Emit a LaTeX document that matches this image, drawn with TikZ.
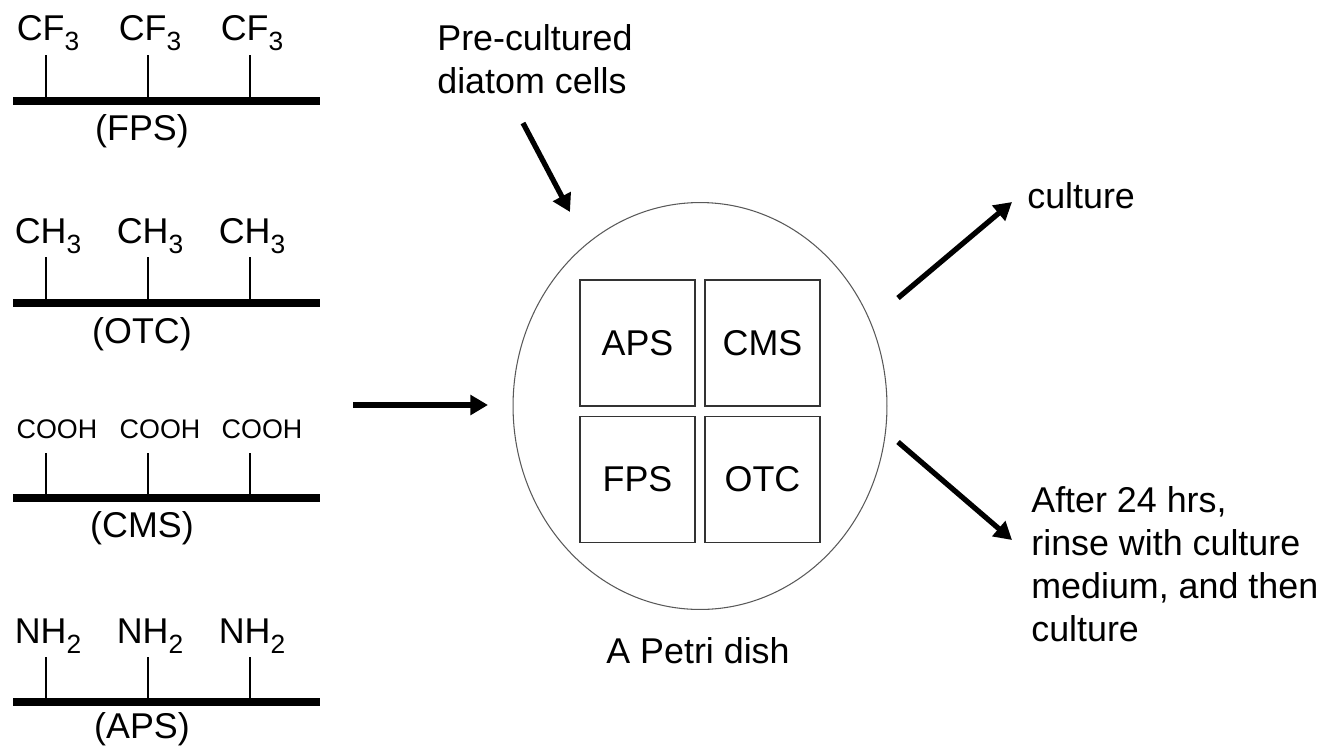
\documentclass[tikz,border=0pt]{standalone}
\usepackage{fontspec}
\setmainfont{Liberation Sans}
\usepackage{tikz}
\usetikzlibrary{arrows.meta}
\usetikzlibrary{shapes.geometric}
\newcommand{\subsc}[1]{\raisebox{-6pt}{\fontsize{15}{15}\selectfont #1}}
\definecolor{dishgray}{rgb}{0.35,0.35,0.35}
\definecolor{boxgray}{rgb}{0.2,0.2,0.2}
\tikzstyle{every node}=[font=\fontsize{20.4}{24.4}\selectfont,inner sep=0pt]
\tikzstyle{chain}=[line width=4.5pt]
\tikzstyle{stub}=[line width=0.6pt]
\tikzstyle{flow}=[->,line width=3pt]
\tikzstyle{chip}=[draw=boxgray,line width=0.9pt,minimum width=2.3cm,minimum height=2.52cm]

\begin{document}
\begin{tikzpicture}[>={Triangle[length=10pt,width=11pt]},x=0.02cm,y=-0.02cm]
            \clip(0,0) rectangle (1322,748);
            % the four surfaces
            \draw [chain] (13,101) -- (320,101);
            \foreach \t in {46,148,250} \draw [stub] (\t,101) -- (\t,55);
            \node [anchor=base] (cf1) at (48,40) {CF\subsc{3}};
            \node [anchor=base] (cf2) at (150,40) {CF\subsc{3}};
            \node [anchor=base] (cf3) at (252,40) {CF\subsc{3}};
            \node [anchor=base] (fps) at (142,140) {(FPS)};
            \draw [chain] (13,303) -- (320,303);
            \foreach \t in {46,148,250} \draw [stub] (\t,303) -- (\t,257);
            \node [anchor=base] (ch1) at (48,243) {CH\subsc{3}};
            \node [anchor=base] (ch2) at (150,243) {CH\subsc{3}};
            \node [anchor=base] (ch3) at (252,243) {CH\subsc{3}};
            \node [anchor=base] (otc) at (142,343) {(OTC)};
            \draw [chain] (13,498) -- (320,498);
            \foreach \t in {46,148,250} \draw [stub] (\t,498) -- (\t,453);
            \node [anchor=base,font=\fontsize{15.3}{18}\selectfont] (co1) at (57,438) {COOH};
            \node [anchor=base,font=\fontsize{15.3}{18}\selectfont] (co2) at (160,438) {COOH};
            \node [anchor=base,font=\fontsize{15.3}{18}\selectfont] (co3) at (262,438) {COOH};
            \node [anchor=base] (cms) at (142,537) {(CMS)};
            \draw [chain] (13,702) -- (320,702);
            \foreach \t in {46,148,250} \draw [stub] (\t,702) -- (\t,657);
            \node [anchor=base] (nh1) at (48,643) {NH\subsc{2}};
            \node [anchor=base] (nh2) at (150,643) {NH\subsc{2}};
            \node [anchor=base] (nh3) at (252,643) {NH\subsc{2}};
            \node [anchor=base] (aps) at (142,738) {(APS)};
            % petri dish
            \node [draw=dishgray,line width=0.6pt,ellipse,minimum width=7.48cm,minimum height=8.14cm] (dish) at (700,406) {};
            \node [chip] (chipaps) at (637.5,343) {APS};
            \node [chip] (chipcms) at (762.5,343) {CMS};
            \node [chip] (chipfps) at (637.5,479.5) {FPS};
            \node [chip] (chipotc) at (762.5,479.5) {OTC};
            \node [anchor=base] (dishlabel) at (698,663) {A Petri dish};
            % texts
            \node [anchor=base west,align=left] (cells) at (437,93) {Pre-cultured\\diatom cells};
            \node [anchor=base west] (culture) at (1027,208) {culture};
            \node [anchor=base west,align=left] (rinse) at (1031,641) {After 24 hrs,\\rinse with culture\\medium, and then\\culture};
            % arrows
            \coordinate (inA) at (353,405);
            \coordinate (inB) at (488,405);
            \coordinate (topA) at (523,123);
            \coordinate (topB) at (570,212);
            \coordinate (upA) at (898,298);
            \coordinate (upB) at (1012,202);
            \coordinate (downA) at (898,442);
            \coordinate (downB) at (1012,540);
            \draw [flow] (inA) -- (inB);
            \draw [flow] (topA) -- (topB);
            \draw [flow] (upA) -- (upB);
            \draw [flow] (downA) -- (downB);
\end{tikzpicture}
\end{document}
